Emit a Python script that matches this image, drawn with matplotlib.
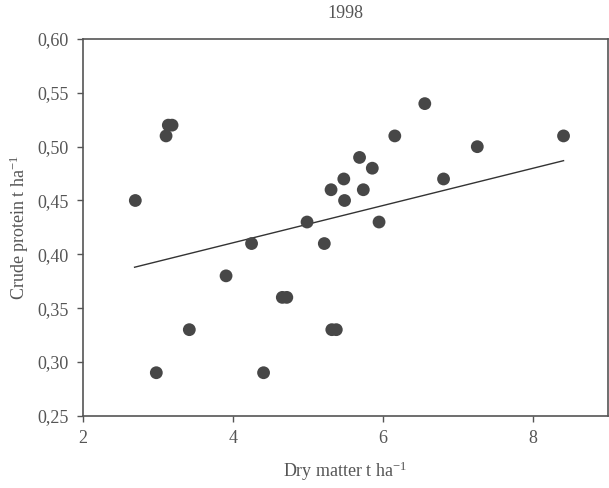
import numpy as np
import matplotlib
matplotlib.use("Agg")
import matplotlib.pyplot as plt

# dry matter (t/ha) and crude protein (t/ha), 1998
dry_matter = [2.70, 2.98, 3.11, 3.14, 3.19, 3.42, 3.91, 4.25, 4.41, 4.66, 4.72,
              4.99, 5.22, 5.31, 5.32, 5.38, 5.48, 5.49, 5.69, 5.74, 5.86, 5.95,
              6.16, 6.56, 6.81, 7.26, 8.41]
crude_protein = [0.45, 0.29, 0.51, 0.52, 0.52, 0.33, 0.38, 0.41, 0.29, 0.36, 0.36,
                 0.43, 0.41, 0.46, 0.33, 0.33, 0.47, 0.45, 0.49, 0.46, 0.48, 0.43,
                 0.51, 0.54, 0.47, 0.50, 0.51]

# trend line ends
trend_x = [2.69, 8.41]
trend_y = [0.388, 0.487]

x_ticks = [2, 4, 6, 8]
y_ticks = [0.25, 0.30, 0.35, 0.40, 0.45, 0.50, 0.55, 0.60]
y_tick_labels = ["0,25", "0,30", "0,35", "0,40", "0,45", "0,50", "0,55", "0,60"]

plt.rcParams['font.family'] = ['Liberation Serif', 'DejaVu Serif']
plt.rcParams['mathtext.fontset'] = 'stix'
txt = '#555555'

fig = plt.figure(figsize=(6.09, 4.88), dpi=100)
ax = fig.add_axes([0.136, 0.148, 0.862, 0.772])

ax.plot(trend_x, trend_y, color='#333333', lw=1.0, zorder=2)
ax.scatter(dry_matter, crude_protein, s=85, color='#474747', edgecolors='none', zorder=3)

ax.set_xlim(2, 9)
ax.set_ylim(0.25, 0.60)
ax.set_xticks(x_ticks)
ax.set_yticks(y_ticks)
ax.set_yticklabels(y_tick_labels)
ax.tick_params(direction='out', length=4, width=1, colors='#555555',
               labelsize=13, labelcolor=txt, pad=6)

for s in ax.spines.values():
    s.set_color('#555555')
    s.set_linewidth(1.2)

ax.set_title("1998", fontsize=13, color=txt, pad=15)
ax.set_xlabel("Dry matter t ha$^{\\mathregular{-1}}$", fontsize=13, color=txt, labelpad=9)
ax.set_ylabel("Crude protein t ha$^{\\mathregular{-1}}$", fontsize=13, color=txt, labelpad=5)

fig.savefig("out.png", dpi=100)
